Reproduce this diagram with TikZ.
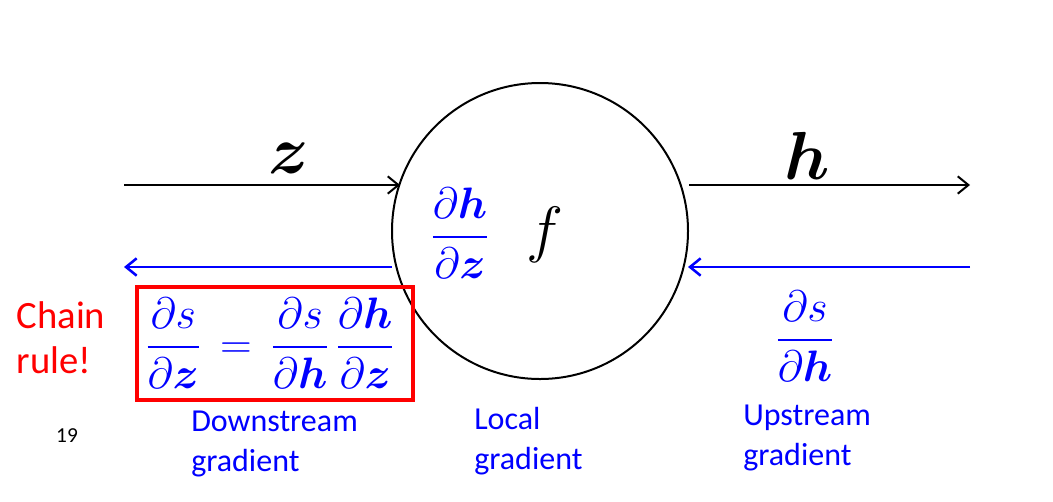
\documentclass[tikz,border=0pt]{standalone}
\usepackage{fix-cm}
\usepackage{amsmath,bm}
\usepackage{fontspec}
\setmainfont{Carlito}
\usetikzlibrary{arrows.meta}
\begin{document}
\begin{tikzpicture}[x=0.75pt,y=-0.75pt,
  fwd/.style={draw=black,line width=1.5pt,-{Straight Barb[length=8pt,width=13pt,line width=1.5pt]}},
  bwd/.style={draw=blue,line width=1.9pt,-{Straight Barb[length=8pt,width=13pt,line width=1.9pt]}},
  bigm/.style={inner sep=0pt,font=\fontsize{51}{60}\selectfont},
  midm/.style={inner sep=0pt,text=blue,font=\fontsize{33}{40}\selectfont},
  lab/.style={inner sep=0pt,text=blue,align=left,font=\fontsize{24}{30}\selectfont}]
\useasboundingbox (0,0) rectangle (1053,501);
\node[circle,draw,line width=1.5pt,minimum size=296*0.75pt,inner sep=0pt] (f) at (540,231) {};
\coordinate (zin) at (124,185);
\coordinate (hout) at (970,185);
\coordinate (gin) at (970,267);
\coordinate (gout) at (124,267);
\path (f.center) ++(-140,-46) coordinate (zhit);
\path (f.center) ++(149,-46) coordinate (hstart);
\path (f.center) ++(-148,36) coordinate (gleft);
\path (f.center) ++(148,36) coordinate (gright);
\draw[fwd] (zin) -- (zhit);
\draw[fwd] (hstart) -- (hout);
\draw[bwd] (gin) -- (gright);
\draw[bwd] (gleft) -- (gout);
\node[bigm] (zl) at (289,158) {$\boldsymbol{z}$};
\node[bigm] (hl) at (807,156) {$\boldsymbol{h}$};
\node[midm] (loc) at (460,233) {$\dfrac{\partial \boldsymbol{h}}{\partial \boldsymbol{z}}$};
\node[bigm,font=\fontsize{47}{50}\selectfont] (fl) at (545,235) {$f$};
\node[midm] (up) at (805,336) {$\dfrac{\partial s}{\partial \boldsymbol{h}}$};
\node[midm] (eq) at (270,343) {$\dfrac{\partial s}{\partial \boldsymbol{z}} \,=\, \dfrac{\partial s}{\partial \boldsymbol{h}}\,\dfrac{\partial \boldsymbol{h}}{\partial \boldsymbol{z}}$};
\draw[red,line width=2.3pt] (137,287) rectangle (413,400);
\node[inner sep=0pt,text=red,align=left,font=\fontsize{29}{34}\selectfont] (chain) at (61,338) {Chain\\rule!};
\node[inner sep=0pt,font=\fontsize{16}{18}\selectfont] (pg) at (67,436) {19};
\node[lab,anchor=west] (ds) at (191,444) {Downstream\\gradient};
\node[lab,anchor=west] (lg) at (474,441) {Local\\gradient};
\node[lab,anchor=west] (ug) at (743,438) {Upstream\\gradient};
\end{tikzpicture}
\end{document}
